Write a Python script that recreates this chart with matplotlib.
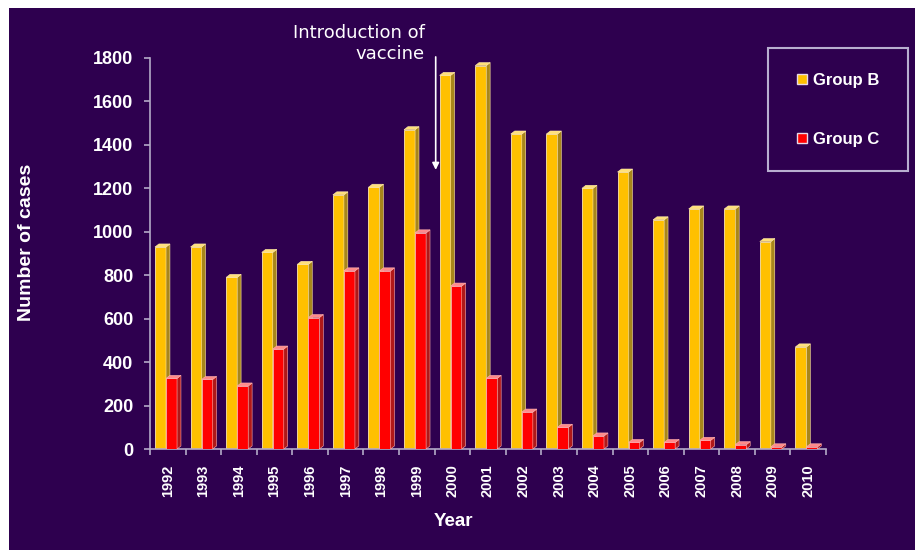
import numpy as np
import matplotlib.pyplot as plt
from matplotlib.patches import Polygon, Rectangle
from matplotlib.lines import Line2D

years = [str(y) for y in range(1992, 2011)]
group_b = [930, 930, 790, 905, 850, 1170, 1205, 1470, 1720, 1765,
           1450, 1450, 1200, 1275, 1055, 1105, 1105, 955, 470]
group_c = [325, 320, 290, 460, 605, 820, 820, 995, 750, 325,
           170, 100, 60, 30, 30, 40, 20, 10, 10]
vaccine_year = 7.53  # between 1999 and 2000

bg = '#2e004f'
axis_col = '#b4aac8'
bold_font = ['Liberation Sans', 'DejaVu Sans']

# colours for the front / side / top faces of each pseudo-3d bar
yellow = dict(front='#ffc000', side='#a8861a', top='#ffe07a', edge='#ffe9a8')
red = dict(front='#ff0000', side='#b01818', top='#ff8a8a', edge='#ffb0b0')

DX, DY = 0.11, 14  # depth of the bars in data units


def bar3d(ax, x0, w, h, c, z):
    ax.bar(x0, h, width=w, align='edge', color=c['front'],
           edgecolor=c['edge'], linewidth=0.6, zorder=z)
    x1 = x0 + w
    side = Polygon([(x1, 0), (x1 + DX, DY), (x1 + DX, h + DY), (x1, h)],
                   closed=True, facecolor=c['side'], edgecolor=c['edge'],
                   linewidth=0.4, zorder=z)
    top = Polygon([(x0, h), (x1, h), (x1 + DX, h + DY), (x0 + DX, h + DY)],
                  closed=True, facecolor=c['top'], edgecolor=c['edge'],
                  linewidth=0.4, zorder=z)
    ax.add_patch(side)
    ax.add_patch(top)


fig = plt.figure(figsize=(9.15, 5.5), dpi=100, facecolor='white')
fig.patches.append(Rectangle((9 / 915, 0), 1, 1 - 8 / 550, transform=fig.transFigure,
                             facecolor=bg, edgecolor='none', zorder=-10))

ax = fig.add_axes([150 / 915, 1 - 449 / 550, 676 / 915, 391 / 550])
ax.set_facecolor('none')

x = np.arange(len(years))
w = 0.31
for i in x:
    bar3d(ax, i - 0.36, w, group_b[i], yellow, 2 + i * 0.01)
    bar3d(ax, i - 0.05, w, group_c[i], red, 3 + i * 0.01)

ax.set_xlim(-0.5, len(years) - 0.5)
ax.set_ylim(0, 1800)

for s in ['top', 'right']:
    ax.spines[s].set_visible(False)
for s in ['left', 'bottom']:
    ax.spines[s].set_color(axis_col)
    ax.spines[s].set_linewidth(1.2)

ax.set_yticks(np.arange(0, 1801, 200))
ax.tick_params(axis='y', colors=axis_col, length=4, width=1.2, pad=8)
for lab in ax.get_yticklabels():
    lab.set_color('white')
    lab.set_fontfamily(bold_font)
    lab.set_fontweight('bold')
    lab.set_fontsize(13)

ax.set_xticks(np.arange(-0.5, len(years)), labels=[])
ax.set_xticks(x, labels=years, minor=True)
ax.tick_params(axis='x', which='major', colors=axis_col, length=4, width=1.2)
ax.tick_params(axis='x', which='minor', length=0, pad=11)
for lab in ax.get_xticklabels(minor=True):
    lab.set_rotation(90)
    lab.set_color('white')
    lab.set_fontfamily(bold_font)
    lab.set_fontweight('bold')
    lab.set_fontsize(10.5)
    lab.set_va('top')

fig.text(453 / 915, 1 - 522 / 550, 'Year', color='white', fontsize=13.5,
         fontweight='bold', family=bold_font, ha='center', va='center')
fig.text(27 / 915, 1 - 242 / 550, 'Number of cases', color='white', fontsize=14,
         fontweight='bold', family=bold_font,
         rotation=90, ha='center', va='center')

# vaccine introduction marker
ax.annotate('', xy=(vaccine_year, 1285), xytext=(vaccine_year, 1805),
            arrowprops=dict(arrowstyle='-|>', color='white', lw=1.2,
                            mutation_scale=10, shrinkA=0, shrinkB=0),
            annotation_clip=False, zorder=6)
fig.text(425 / 915, 1 - 24 / 550, 'Introduction of\nvaccine', color='white',
         fontsize=13, family='DejaVu Sans', ha='right', va='top',
         multialignment='right', linespacing=1.2)

# legend box
fig.patches.append(Rectangle((768 / 915, 1 - 171 / 550), 140 / 915, 123 / 550,
                             transform=fig.transFigure, facecolor='none',
                             edgecolor='#b8aed0', linewidth=1.5, zorder=5))
handles = [Line2D([], [], marker='s', linestyle='none', markersize=6.5,
                  markerfacecolor=yellow['front'], markeredgecolor='#e8d8e8'),
           Line2D([], [], marker='s', linestyle='none', markersize=6.5,
                  markerfacecolor=red['front'], markeredgecolor='#e8d8e8')]
leg = fig.legend(handles, ['Group B', 'Group C'], loc='upper left',
                 bbox_to_anchor=(788 / 915, 1 - 65 / 550), frameon=False,
                 labelspacing=2.6, handlelength=0.7, handletextpad=0.3,
                 borderpad=0, prop=dict(family=bold_font, weight='bold', size=12))
for t in leg.get_texts():
    t.set_color('white')

fig.savefig('out.png', dpi=100, facecolor=fig.get_facecolor())
